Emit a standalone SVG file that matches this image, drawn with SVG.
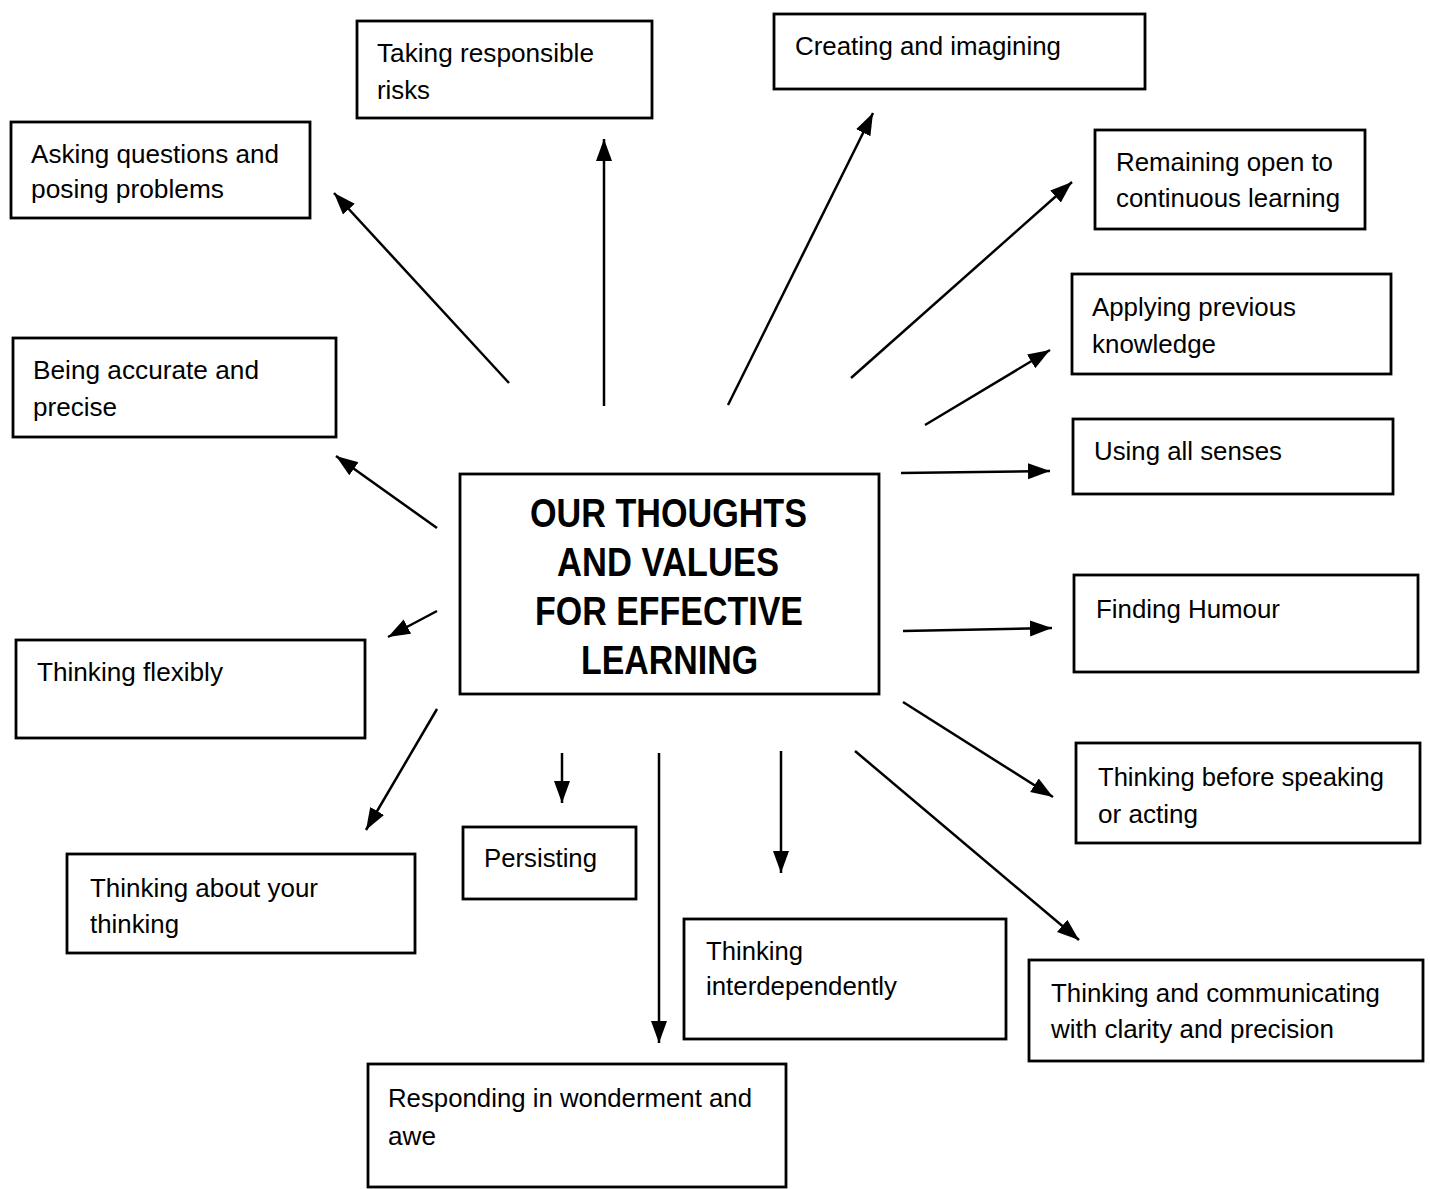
<svg xmlns="http://www.w3.org/2000/svg" width="1430" height="1189" viewBox="0 0 1430 1189">
  <style>
    .box { fill: #fff; stroke: #000; stroke-width: 2.8; }
    .lbl { font-family: "Liberation Sans", Arial, sans-serif; font-size: 26px; fill: #000; }
    .title { font-family: "Liberation Sans", Arial, sans-serif; font-size: 40px; font-weight: bold; fill: #000; }
    .conn line { stroke: #000; stroke-width: 2.5; marker-end: url(#head); }
  </style>
  <defs>
    <marker id="head" markerUnits="userSpaceOnUse" markerWidth="24" markerHeight="18" refX="22" refY="8" orient="auto">
      <path d="M0,0 L22,8 L0,16 z" fill="#000"/>
    </marker>
  </defs>
  <rect width="1430" height="1189" fill="#fff"/>

  <!-- spokes from the central box -->
  <g id="connectors" class="conn">
    <line x1="509" y1="383" x2="334" y2="193"/>
    <line x1="604" y1="406" x2="604" y2="139"/>
    <line x1="728" y1="405" x2="873" y2="113"/>
    <line x1="851" y1="378" x2="1072" y2="182"/>
    <line x1="925" y1="425" x2="1050" y2="350"/>
    <line x1="901" y1="473" x2="1050" y2="471"/>
    <line x1="437" y1="528" x2="336" y2="456"/>
    <line x1="437" y1="611" x2="388" y2="637"/>
    <line x1="437" y1="709" x2="366" y2="830"/>
    <line x1="562" y1="753" x2="562" y2="803"/>
    <line x1="659" y1="753" x2="659" y2="1043"/>
    <line x1="781" y1="751" x2="781" y2="873"/>
    <line x1="903" y1="631" x2="1052" y2="628"/>
    <line x1="903" y1="702" x2="1053" y2="797"/>
    <line x1="855" y1="751" x2="1079" y2="940"/>
  </g>

  <g id="centre">
    <rect class="box" x="460" y="474" width="419" height="220"/>
    <text class="title" x="530" y="527" textLength="277" lengthAdjust="spacingAndGlyphs">OUR THOUGHTS</text>
    <text class="title" x="557" y="576" textLength="222" lengthAdjust="spacingAndGlyphs">AND VALUES</text>
    <text class="title" x="535" y="625" textLength="268" lengthAdjust="spacingAndGlyphs">FOR EFFECTIVE</text>
    <text class="title" x="581" y="674" textLength="177" lengthAdjust="spacingAndGlyphs">LEARNING</text>
  </g>

  <g id="taking-risks">
    <rect class="box" x="357" y="21" width="295" height="97"/>
    <text class="lbl" x="377" y="62" textLength="217" lengthAdjust="spacingAndGlyphs">Taking responsible</text>
    <text class="lbl" x="377" y="99" textLength="53" lengthAdjust="spacingAndGlyphs">risks</text>
  </g>

  <g id="asking-questions">
    <rect class="box" x="11" y="122" width="299" height="96"/>
    <text class="lbl" x="31" y="163" textLength="248" lengthAdjust="spacingAndGlyphs">Asking questions and</text>
    <text class="lbl" x="31" y="198" textLength="193" lengthAdjust="spacingAndGlyphs">posing problems</text>
  </g>

  <g id="creating">
    <rect class="box" x="774" y="14" width="371" height="75"/>
    <text class="lbl" x="795" y="55" textLength="266" lengthAdjust="spacingAndGlyphs">Creating and imagining</text>
  </g>

  <g id="remaining-open">
    <rect class="box" x="1095" y="130" width="270" height="99"/>
    <text class="lbl" x="1116" y="171" textLength="217" lengthAdjust="spacingAndGlyphs">Remaining open to</text>
    <text class="lbl" x="1116" y="207" textLength="224" lengthAdjust="spacingAndGlyphs">continuous learning</text>
  </g>

  <g id="applying-knowledge">
    <rect class="box" x="1072" y="274" width="319" height="100"/>
    <text class="lbl" x="1092" y="316" textLength="204" lengthAdjust="spacingAndGlyphs">Applying previous</text>
    <text class="lbl" x="1092" y="353" textLength="124" lengthAdjust="spacingAndGlyphs">knowledge</text>
  </g>

  <g id="all-senses">
    <rect class="box" x="1073" y="419" width="320" height="75"/>
    <text class="lbl" x="1094" y="460" textLength="188" lengthAdjust="spacingAndGlyphs">Using all senses</text>
  </g>

  <g id="accurate">
    <rect class="box" x="13" y="338" width="323" height="99"/>
    <text class="lbl" x="33" y="379" textLength="226" lengthAdjust="spacingAndGlyphs">Being accurate and</text>
    <text class="lbl" x="33" y="416" textLength="84" lengthAdjust="spacingAndGlyphs">precise</text>
  </g>

  <g id="flexibly">
    <rect class="box" x="16" y="640" width="349" height="98"/>
    <text class="lbl" x="37" y="681" textLength="186" lengthAdjust="spacingAndGlyphs">Thinking flexibly</text>
  </g>

  <g id="humour">
    <rect class="box" x="1074" y="575" width="344" height="97"/>
    <text class="lbl" x="1096" y="618" textLength="184" lengthAdjust="spacingAndGlyphs">Finding Humour</text>
  </g>

  <g id="before-speaking">
    <rect class="box" x="1076" y="743" width="344" height="100"/>
    <text class="lbl" x="1098" y="786" textLength="286" lengthAdjust="spacingAndGlyphs">Thinking before speaking</text>
    <text class="lbl" x="1098" y="823" textLength="100" lengthAdjust="spacingAndGlyphs">or acting</text>
  </g>

  <g id="about-thinking">
    <rect class="box" x="67" y="854" width="348" height="99"/>
    <text class="lbl" x="90" y="897" textLength="228" lengthAdjust="spacingAndGlyphs">Thinking about your</text>
    <text class="lbl" x="90" y="933" textLength="89" lengthAdjust="spacingAndGlyphs">thinking</text>
  </g>

  <g id="persisting">
    <rect class="box" x="463" y="827" width="173" height="72"/>
    <text class="lbl" x="484" y="867" textLength="113" lengthAdjust="spacingAndGlyphs">Persisting</text>
  </g>

  <g id="interdependently">
    <rect class="box" x="684" y="919" width="322" height="120"/>
    <text class="lbl" x="706" y="960" textLength="97" lengthAdjust="spacingAndGlyphs">Thinking</text>
    <text class="lbl" x="706" y="995" textLength="191" lengthAdjust="spacingAndGlyphs">interdependently</text>
  </g>

  <g id="communicating">
    <rect class="box" x="1029" y="960" width="394" height="101"/>
    <text class="lbl" x="1051" y="1002" textLength="329" lengthAdjust="spacingAndGlyphs">Thinking and communicating</text>
    <text class="lbl" x="1051" y="1038" textLength="283" lengthAdjust="spacingAndGlyphs">with clarity and precision</text>
  </g>

  <g id="wonderment">
    <rect class="box" x="368" y="1064" width="418" height="123"/>
    <text class="lbl" x="388" y="1107" textLength="364" lengthAdjust="spacingAndGlyphs">Responding in wonderment and</text>
    <text class="lbl" x="388" y="1145" textLength="48" lengthAdjust="spacingAndGlyphs">awe</text>
  </g>
</svg>
